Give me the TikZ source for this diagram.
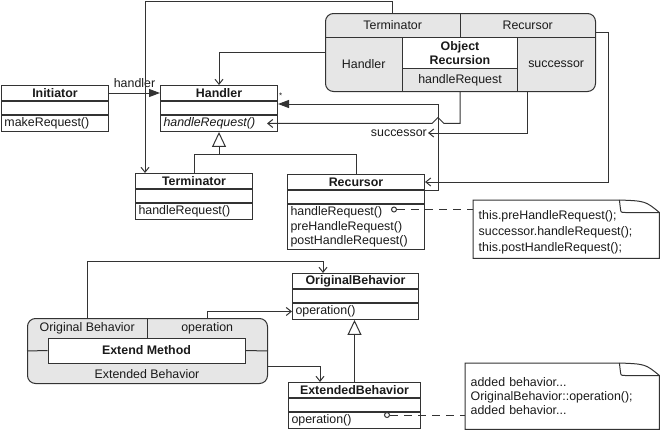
\documentclass[tikz,border=0pt]{standalone}
\usepackage{fontspec}
\setmainfont{Liberation Sans}
\usetikzlibrary{positioning,calc,arrows.meta}
\definecolor{linegray}{HTML}{333333}
\definecolor{boxgray}{HTML}{E6E6E6}
\definecolor{inkgray}{HTML}{1A1A1A}
\newcommand{\umlsize}{\fontsize{12.4}{14.5}\selectfont}
\newcommand{\dogear}[1]{%
  \draw[umlline] (#1.north west) -- ($(#1.north east)+(-40,0)$) .. controls ($(#1.north east)+(-14,1)$) .. ($(#1.north east)+(0,12.5)$) -- (#1.south east) -- (#1.south west) -- cycle;
  \draw[umlline] ($(#1.north east)+(-40,0)$) -- ($(#1.north east)+(-39,8.5)$) .. controls ($(#1.north east)+(-38.5,12.5)$) .. ($(#1.north east)+(-34,12.5)$) -- ($(#1.north east)+(0,12.5)$);
}
\tikzset{
  umlline/.style={draw=linegray, line width=1pt},
  clshead/.style={umlline, fill=white, font=\umlsize\bfseries, minimum width=#1, minimum height=15pt, inner sep=0pt},
  clsattr/.style={umlline, fill=white, minimum width=#1, minimum height=13pt, inner sep=0pt},
  clsops/.style={umlline, fill=white, text width=#1, align=left, inner xsep=3pt, inner ysep=2.2pt, minimum height=15pt},
  patbox/.style={umlline, fill=boxgray, rounded corners=8pt},
  cell/.style={inner sep=0pt},
  namecell/.style={umlline, fill=white, font=\umlsize\bfseries, align=center, inner sep=0pt},
  notebox/.style={align=left, inner xsep=5.5pt},
  assoc/.style={umlline, -{Straight Barb[length=5pt,width=8pt]}},
  navfill/.style={umlline, -{Triangle[length=11pt,width=8pt]}},
  genarrow/.style={umlline, -{Triangle[length=15pt,width=14pt,fill=white]}},
  dotend/.style={circle, umlline, fill=white, minimum size=5pt, inner sep=0pt},
  notelink/.style={umlline, dash pattern=on 8pt off 6pt},
}
\begin{document}
\begin{tikzpicture}[x=1pt, y=-1pt, font=\umlsize, text=inkgray]
\useasboundingbox (0,0) rectangle (661,431);
\node[clshead=107pt, anchor=north west] (initiator) at (1,85) {Initiator};
\node[clsattr=107pt, below=0pt of initiator] (initiatorA) {};
\node[clsops=101pt, below=0pt of initiatorA] (initiatorM) {makeRequest()};
\node[clshead=117pt, anchor=north west] (handler) at (160,85) {Handler};
\node[clsattr=117pt, below=0pt of handler] (handlerA) {};
\node[clsops=111pt, below=0pt of handlerA] (handlerM) {\itshape handleRequest()};
\node[clshead=117pt, anchor=north west] (terminator) at (135,173) {Terminator};
\node[clsattr=117pt, below=0pt of terminator] (terminatorA) {};
\node[clsops=111pt, below=0pt of terminatorA] (terminatorM) {handleRequest()};
\node[clshead=137pt, anchor=north west] (recursor) at (287,174) {Recursor};
\node[clsattr=137pt, below=0pt of recursor] (recursorA) {};
\node[clsops=131pt, below=0pt of recursorA] (recursorM) {handleRequest()\\preHandleRequest()\\postHandleRequest()};
\node[clshead=126pt, anchor=north west] (origb) at (292,273) {OriginalBehavior};
\node[clsattr=126pt, below=0pt of origb] (origbA) {};
\node[clsops=120pt, below=0pt of origbA] (origbM) {operation()};
\node[clshead=132pt, anchor=north west] (extb) at (288,382) {ExtendedBehavior};
\node[clsattr=132pt, below=0pt of extb] (extbA) {};
\node[clsops=126pt, below=0pt of extbA] (extbM) {operation()};

\node[patbox, minimum width=270pt, minimum height=78pt, anchor=north west] (objrec) at (325,13) {};
\node[cell, minimum width=135pt, minimum height=24pt, anchor=north west] (termcell) at (325,13) {Terminator};
\node[cell, minimum width=135pt, minimum height=24pt, anchor=north west] (reccell) at (460,13) {Recursor};
\node[cell, minimum width=77pt, minimum height=54pt, anchor=north west] (handcell) at (325,37) {Handler};
\node[namecell, minimum width=115pt, minimum height=31pt, anchor=north west] (orname) at (402,37) {Object\\Recursion};
\node[umlline, cell, minimum width=115pt, minimum height=23pt, anchor=north west] (methcell) at (402,68) {handleRequest};
\node[cell, minimum width=78pt, minimum height=54pt, anchor=north west] (succcell) at (517,37) {successor};
\draw[umlline] (objrec.west |- termcell.south) -- (objrec.east |- termcell.south);
\draw[umlline] (termcell.north east) -- (termcell.south east);
\draw[umlline] (handcell.north east) -- (handcell.south east);

\node[patbox, minimum width=240pt, minimum height=65pt, anchor=north west] (extm) at (27,318) {};
\node[cell, minimum width=120pt, minimum height=20pt, anchor=north west] (obcell) at (27,318) {Original Behavior};
\node[cell, minimum width=120pt, minimum height=20pt, anchor=north west] (opcell) at (147,318) {operation};
\node[namecell, minimum width=197pt, minimum height=25pt] (extname) at (146.5,350.5) {Extend Method};
\node[cell] (extbeh) at (147,374) {Extended Behavior};
\draw[umlline] (extm.west) -- (extname.west) (extname.east) -- (extm.east);
\draw[umlline] (obcell.north east) -- (obcell.north east |- extname.north);

\draw[navfill] (initiator.east) -- node[above=2pt] (handlerlbl) {handler} (handler.west);
\node[font=\fontsize{8}{8}\selectfont, anchor=base west, inner sep=0pt] (mult) at (279,98) {*};
\draw[assoc] (objrec.west) -| (handler.north);
\draw[assoc] (termcell.north) -- ++(0,-12) -| ($(terminator.north west)+(10,0)$);
\draw[assoc] ($(reccell.east)+(0,7)$) -- ++(13,0) |- (recursor.east);
\coordinate (selfx) at ($(recursorA.north east)+(13,0)$);
\draw[navfill] (recursorA.north east) -- (selfx) |- ($(handlerA.north east)+(0,3)$);
\node[anchor=east, inner sep=1pt] (succlbl) at (428,133) {successor};
\draw[assoc] ($(succcell.south west)+(10,0)$) |- (succlbl.east);
\draw[assoc] (methcell.south) |- ($(selfx |- handlerM.east)+(6,0)$) -- ++(-6,-6) -- ++(-6,6) -- ($(handlerM.east)+(-11,0)$);
\coordinate (genjoin) at ($(handlerM.south)+(0,23)$);
\draw[umlline] (terminator.north) |- (genjoin) -| (recursor.north);
\draw[genarrow] (genjoin) -- (handlerM.south);

\draw[assoc] (obcell.north) |- ($(origb.north west)+(31,-12)$) -- ($(origb.north west)+(31,0)$);
\draw[assoc] (opcell.north) |- (origbM.west);
\draw[assoc] ($(extm.east)+(0,15)$) -| ($(extb.north west)+(32,0)$);
\draw[genarrow] (extb.north) -- (extb.north |- origbM.south);

\node[notebox, font=\fontsize{12.4}{16}\selectfont, text height=14.7pt, text width=175pt, minimum width=186pt, minimum height=58pt, anchor=north west] (note1) at (473,200) {this.preHandleRequest();\\successor.handleRequest();\\this.postHandleRequest();};
\dogear{note1}
\node[dotend] (recdot) at (394,209.5) {};
\draw[notelink] (recdot.east) -- (recdot.east -| note1.west);
\node[notebox, font=\fontsize{12.4}{14}\selectfont, text width=183pt, minimum width=194pt, minimum height=66pt, anchor=north west] (note2) at (465,363) {added behavior...\\OriginalBehavior::operation();\\added behavior...};
\dogear{note2}
\node[dotend] (extdot) at (387,415) {};
\draw[notelink] (extdot.east) -- (extdot.east -| note2.west);
\end{tikzpicture}
\end{document}
